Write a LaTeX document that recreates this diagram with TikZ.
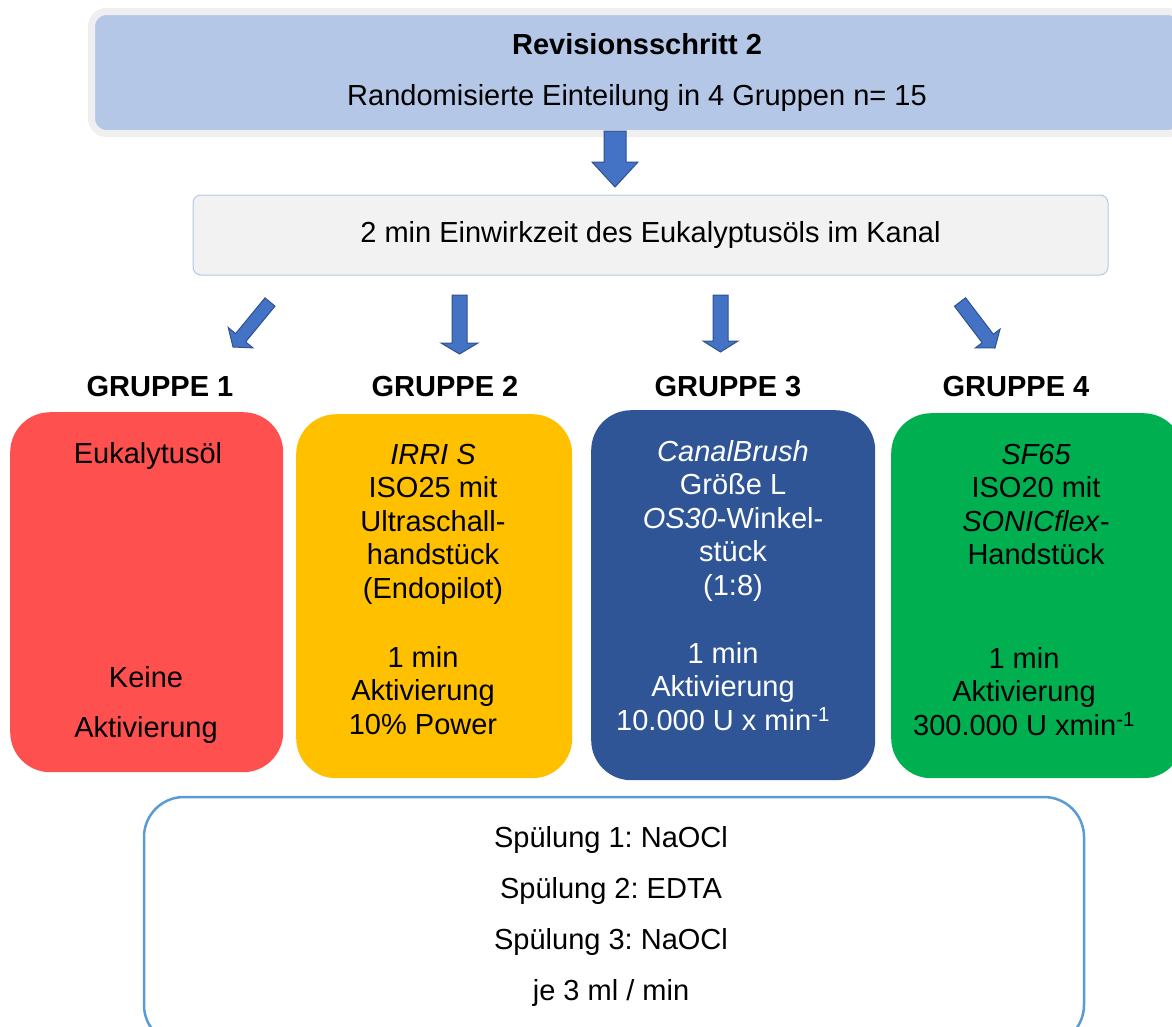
\documentclass[tikz,border=0pt]{standalone}
\usepackage{fontspec}
\setmainfont{Liberation Sans}
\usetikzlibrary{calc}
\frenchspacing
\definecolor{kopfblau}{HTML}{B4C7E7}
\definecolor{kopfrand}{HTML}{EFEFEF}
\definecolor{kastengrau}{HTML}{F2F2F2}
\definecolor{pfeilblau}{HTML}{4472C4}
\definecolor{pfeilrand}{HTML}{2F528F}
\definecolor{rot}{HTML}{FF5050}
\definecolor{gelb}{HTML}{FFC000}
\definecolor{dunkelblau}{HTML}{2F5597}
\definecolor{gruen}{HTML}{00B050}
\definecolor{spuelrand}{HTML}{5B9BD5}

\tikzset{
  txt/.style={font=\fontsize{29}{33.5}\selectfont, align=center, inner sep=0pt},
  titel/.style={font=\bfseries\fontsize{29}{33.5}\selectfont, inner sep=0pt},
  gruppe/.style={anchor=north west, rounded corners=40pt, inner sep=0pt},
  pfeil/.style={fill=pfeilblau, draw=pfeilrand, line width=1pt, line join=miter}
}

% block arrow: start, end, half shaft, half head, head length
\newcommand{\blockpfeil}[5]{%
  \coordinate (hb) at ($(#2)!#5!(#1)$);
  \filldraw[pfeil] ($(#1)!#3!90:(#2)$) -- ($(hb)!#3!90:(#2)$)
      -- ($(hb)!#4!90:(#2)$) -- (#2) -- ($(hb)!#4!-90:(#2)$)
      -- ($(hb)!#3!-90:(#2)$) -- ($(#1)!#3!-90:(#2)$) -- cycle;
}

\begin{document}
\begin{tikzpicture}[x=1pt,y=-1pt]
\useasboundingbox (0,0) rectangle (1172,1026);
\clip (0,0) rectangle (1172,1026);

\node[txt, fill=kopfblau, draw=kopfrand, line width=7pt, rounded corners=15pt,
      minimum width=1091pt, minimum height=122pt] (kopf) at (637,72.5)
      {\textbf{Revisionsschritt 2}\\[17.5pt]Randomisierte Einteilung in 4 Gruppen n= 15};

\node[txt, fill=kastengrau, draw=kopfblau, line width=1pt, rounded corners=8pt,
      minimum width=915pt, minimum height=80pt] (einwirk) at (650.5,235)
      {2 min Einwirkzeit des Eukalyptusöls im Kanal};

\coordinate (p0a) at (615,131);
\coordinate (p0b) at (615,187);
\blockpfeil{p0a}{p0b}{11pt}{23pt}{25pt}

\coordinate (p1a) at (270,302);
\coordinate (p1b) at (233,347);
\blockpfeil{p1a}{p1b}{6.5pt}{16pt}{12pt}
\coordinate (p2a) at (459.5,295);
\coordinate (p2b) at (459.5,354);
\blockpfeil{p2a}{p2b}{7.5pt}{18.5pt}{11pt}
\coordinate (p3a) at (720.5,295);
\coordinate (p3b) at (720.5,352);
\blockpfeil{p3a}{p3b}{7.5pt}{17.5pt}{11pt}
\coordinate (p4a) at (960,302);
\coordinate (p4b) at (995,348);
\blockpfeil{p4a}{p4b}{7pt}{15.5pt}{12pt}

\node[titel, anchor=base] (gr1) at (160,396) {GRUPPE 1};
\node[titel, anchor=base] (gr2) at (445,396) {GRUPPE 2};
\node[titel, anchor=base] (gr3) at (728,396) {GRUPPE 3};
\node[titel, anchor=base] (gr4) at (1016,396) {GRUPPE 4};

\node[gruppe, fill=rot, minimum width=273pt, minimum height=360pt] (box1) at (10,412) {};
\node[gruppe, fill=gelb, minimum width=276pt, minimum height=364pt] (box2) at (296,414) {};
\node[gruppe, fill=dunkelblau, minimum width=284pt, minimum height=370pt] (box3) at (591,410) {};
\node[gruppe, fill=gruen, minimum width=292pt, minimum height=365pt] (box4) at (891,413) {};

\node[txt, anchor=north] (text1o) at (148,442) {Eukalytusöl};
\node[txt, anchor=north] (text1u) at (146,666) {Keine\\[16.5pt]Aktivierung};

\node[txt, anchor=north] (text2o) at (433,444)
  {\textit{IRRI S}\\ISO25 mit\\Ultraschall-\\handstück\\(Endopilot)};
\node[txt, anchor=north] (text2u) at (423,646) {1 min\\Aktivierung\\10\% Power};

\node[txt, anchor=north, text=white] (text3o) at (733,440)
  {\textit{CanalBrush}\\Größe L\\\textit{OS30}-Winkel-\\stück\\(1:8)};
\node[txt, anchor=north, text=white] (text3u) at (723,642)
  {1 min\\Aktivierung\\10.000 U x min\textsuperscript{-1}};

\node[txt, anchor=north] (text4o) at (1036,444)
  {\textit{SF65}\\ISO20 mit\\\textit{SONICflex}-\\Handstück};
\node[txt, anchor=north] (text4u) at (1024,647)
  {1 min\\Aktivierung\\300.000 U xmin\textsuperscript{-1}};

\node[draw=spuelrand, line width=2.5pt, rounded corners=40pt, fill=white,
      minimum width=940pt, minimum height=248pt] (spuelbox) at (614,921) {};
\node[txt, anchor=north] (spuel) at (611,826)
  {Spülung 1: NaOCl\\[17.5pt]Spülung 2: EDTA\\[17.5pt]Spülung 3: NaOCl\\[17.5pt]je 3 ml / min};

\end{tikzpicture}
\end{document}
